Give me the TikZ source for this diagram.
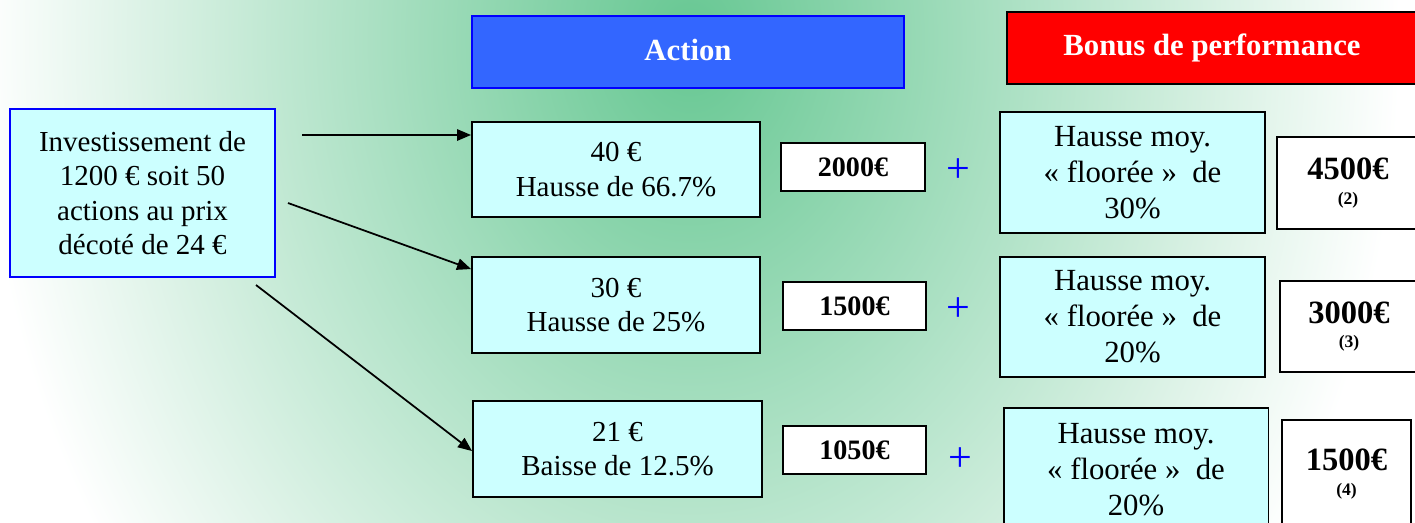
\documentclass[tikz,border=0pt]{standalone}
\usepackage{fontspec}
\setmainfont{Liberation Serif}
\usetikzlibrary{arrows.meta}
\definecolor{fondvert}{RGB}{102,199,146}
\definecolor{cyanclair}{RGB}{204,255,255}
\definecolor{bleutitre}{RGB}{51,102,255}
\begin{document}
\begin{tikzpicture}[x=0.02cm, y=-0.02cm,
		boite/.style={draw, line width=1.1pt, fill=cyanclair, align=center, inner sep=2pt, font=\fontsize{16.5}{19.5}\selectfont},
		bonusbox/.style={boite, minimum width=5.3cm, font=\fontsize{17.5}{20.5}\selectfont},
		montant/.style={draw, line width=1.1pt, fill=white, align=center, font=\fontsize{16}{18}\selectfont\bfseries},
		total/.style={montant, font=\bfseries},
		titre/.style={line width=1.5pt, text=white, font=\fontsize{17.5}{20}\selectfont\bfseries},
		plus/.style={text=blue, font=\fontsize{24}{26}\selectfont},
		fleche/.style={-{Triangle[length=8pt,width=6.5pt]}, line width=1pt}]
	% fond en degrade
	\useasboundingbox (0,0) rectangle (1415,522);
	\fill[white] (0,0) rectangle (1415,522);
	\begin{scope}
		\clip (0,0) rectangle (1415,522);
		\shade[inner color=fondvert, outer color=white] (-20,-860) rectangle (1400,940);
	\end{scope}
	% titres
	\node[titre, draw=blue, fill=bleutitre, minimum width=8.64cm, minimum height=1.44cm] (action) at (688,52) {\raisebox{3pt}{Action}};
	\node[titre, draw=black, fill=red, minimum width=8.2cm, minimum height=1.44cm] (bonus) at (1212,48) {Bonus de performance};
	% investissement
	\node[boite, draw=blue, minimum width=5.3cm, minimum height=3.36cm] (invest) at (142.5,193) {Investissement de\\ 1200 € soit 50\\ actions au prix\\ décoté de 24 €};
	% cours de l'action
	\node[boite, minimum width=5.76cm, minimum height=1.9cm] (r1) at (616,169.5) {40 €\\ Hausse de 66.7\%};
	\node[boite, minimum width=5.76cm, minimum height=1.92cm] (r2) at (616,305) {30 €\\ Hausse de 25\%};
	\node[boite, minimum width=5.78cm, minimum height=1.92cm] (r3) at (617.5,449) {21 €\\ Baisse de 12.5\%};
	\node[montant, minimum width=2.88cm, minimum height=0.96cm] (v1) at (853,167) {2000€};
	\node[montant, minimum width=2.86cm, minimum height=0.96cm] (v2) at (854.5,306) {1500€};
	\node[montant, minimum width=2.86cm, minimum height=0.96cm] (v3) at (854.5,450) {1050€};
	\node[plus] (p1) at (958,171) {+};
	\node[plus] (p2) at (958,310) {+};
	\node[plus] (p3) at (960,460) {+};
	% bonus
	\node[bonusbox, minimum height=2.42cm] (b1) at (1132.5,172.5) {Hausse moy.\\ « floorée » \ de\\ 30\%};
	\node[bonusbox, minimum height=2.4cm] (b2) at (1132.5,317) {Hausse moy.\\ « floorée » \ de\\ 20\%};
	\node[bonusbox, minimum height=2.48cm] (b3) at (1136,470) {Hausse moy.\\ « floorée » \ de\\ 20\%};
	\node[total, minimum width=2.84cm, minimum height=1.84cm] (t1) at (1348,183) {\fontsize{18.5}{21}\selectfont 4500€\\[2pt] \fontsize{10}{12}\selectfont (2)};
	\node[total, minimum width=2.76cm, minimum height=1.82cm] (t2) at (1349,326.5) {\fontsize{18.5}{21}\selectfont 3000€\\[2pt] \fontsize{10}{12}\selectfont (3)};
	\node[total, minimum width=2.58cm, minimum height=2.16cm] (t3) at (1346.5,474) {\fontsize{18.5}{21}\selectfont 1500€\\[2pt] \fontsize{10}{12}\selectfont (4)};
	% fleches
	\coordinate (d1) at (302,135);
	\coordinate (d2) at (288,203);
	\coordinate (d3) at (256,285);
	\draw[fleche] (d1) -- (d1 -| r1.west);
	\draw[fleche] (d2) -- ([yshift=-0.26cm]r2.north west);
	\draw[fleche] (d3) -- ([yshift=-1.02cm]r3.north west);
\end{tikzpicture}
\end{document}
